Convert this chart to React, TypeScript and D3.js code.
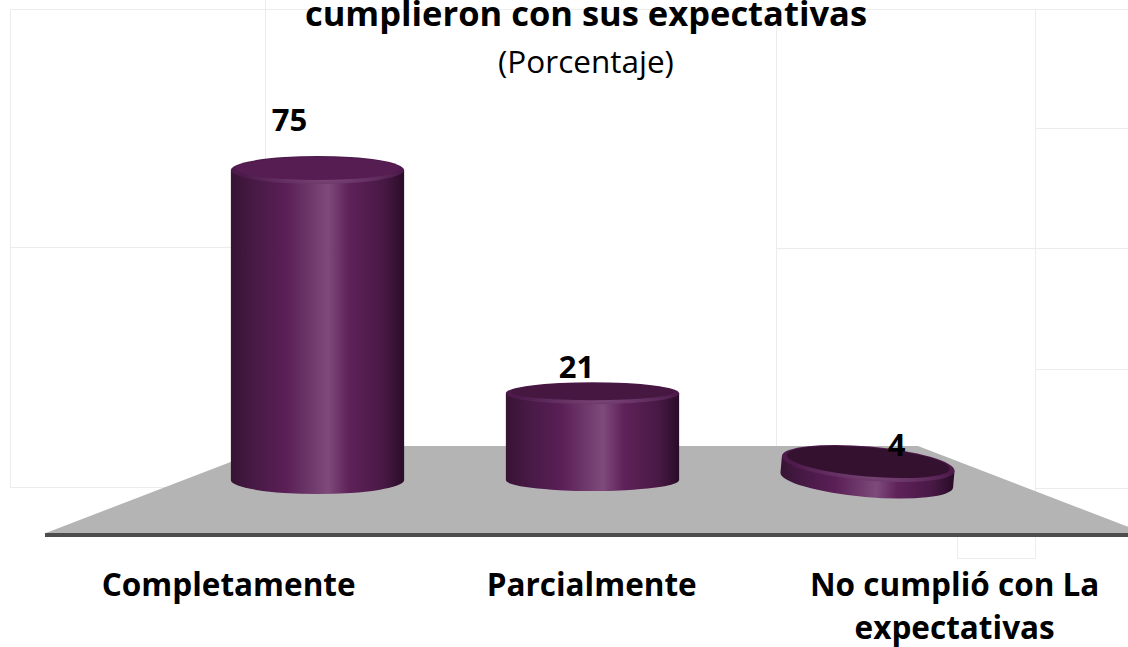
import React from "react";
import * as d3 from "d3";

// ---- data ----
const categories: string[][] = [
  ["Completamente"],
  ["Parcialmente"],
  ["No cumplió con La", "expectativas"],
];
const values: number[] = [75, 21, 4];
const titleLine = "cumplieron con sus expectativas";
const subtitle = "(Porcentaje)";

// ---- layout ----
const W = 1128;
const H = 647;
const FONT = "'Open Sans', 'DejaVu Sans', sans-serif";
const vanishX = 595; // perspective centre of the floor
const frontSpread = 1.32; // label row is wider than the bars row
const ellipseRy = [14, 11, 17];
const tilt = [0, 0, 5];
const labelDx = [-28, -16, 29];
const labelGap = [25, 4, -10];

const gridLines: [number, number, number, number][] = [
  [10, 9, 1128, 9],
  [10, 9, 10, 487],
  [265, 0, 265, 247],
  [10, 247, 265, 247],
  [10, 487, 230, 487],
  [776, 9, 776, 446],
  [776, 248, 1128, 248],
  [1035, 9, 1035, 558],
  [1035, 128, 1128, 128],
  [1035, 369, 1128, 369],
  [1035, 488, 1128, 488],
  [957, 536, 957, 558],
  [957, 558, 1035, 558],
];

export default function App() {
  const keys = categories.map((c) => c.join(" "));
  const x = d3
    .scaleBand<string>()
    .domain(keys)
    .range([180, 1005])
    .paddingInner(0.37)
    .paddingOuter(0.185);
  const y = d3.scaleLinear().domain([0, 75]).range([480, 170]);

  const floorBackY = 446;
  const floorFrontY = 533;
  const floorBack = [272, 918];
  const floorFront = floorBack.map((v) => vanishX + (v - vanishX) * 1.7);

  const rx = x.bandwidth() / 2;
  const topColor = d3.interpolateRgb("#561d53", "#33112f");
  const firstC = x(keys[0])! + rx;
  const lastC = x(keys[keys.length - 1])! + rx;

  return (
    <svg
      width={W}
      height={H}
      style={{ position: "absolute", left: 0, top: 0, background: "#fff" }}
    >
      <defs>
        <linearGradient id="side" x1="0" x2="1" y1="0" y2="0">
          <stop offset="0%" stopColor="#371333" />
          <stop offset="12%" stopColor="#461944" />
          <stop offset="32%" stopColor="#5a1f57" />
          <stop offset="50%" stopColor="#744070" />
          <stop offset="56%" stopColor="#7e4a7b" />
          <stop offset="68%" stopColor="#5f2259" />
          <stop offset="88%" stopColor="#481945" />
          <stop offset="100%" stopColor="#2a0c28" />
        </linearGradient>
        <radialGradient id="rim" cx="0.55" cy="0.85" r="0.5">
          <stop offset="0%" stopColor="#7a4577" />
          <stop offset="100%" stopColor="#4e1a4b" />
        </radialGradient>
      </defs>

      {/* faint background cell lines */}
      <g stroke="#ececec" strokeWidth={1}>
        {gridLines.map(([x1, y1, x2, y2], i) => (
          <line key={i} x1={x1 + 0.5} y1={y1 + 0.5} x2={x2 + 0.5} y2={y2 + 0.5} />
        ))}
      </g>

      {/* title */}
      <text
        x={586}
        y={26}
        textAnchor="middle"
        fontFamily={FONT}
        fontWeight={700}
        fontSize={34.5}
      >
        {titleLine}
      </text>
      <text x={586} y={73} textAnchor="middle" fontFamily={FONT} fontSize={31.5}>
        {subtitle}
      </text>

      {/* floor */}
      <polygon
        points={[
          [floorBack[0], floorBackY],
          [floorBack[1], floorBackY],
          [floorFront[1], floorFrontY],
          [floorFront[0], floorFrontY],
        ]
          .map((p) => p.join(","))
          .join(" ")}
        fill="#b4b4b4"
      />
      <line x1={45} y1={535} x2={W} y2={535} stroke="#4d4d4d" strokeWidth={4} />

      {/* cylinders */}
      {keys.map((k, i) => {
        const cx = x(k)! + rx;
        const x0 = cx - rx;
        const x1 = cx + rx;
        const yTop = y(values[i]);
        const yBase = y(0);
        const ry = ellipseRy[i];
        const t = (cx - firstC) / (lastC - firstC);
        const side = `M${x0},${yTop} L${x0},${yBase} A${rx},${ry} 0 0 0 ${x1},${yBase} L${x1},${yTop} Z`;
        return (
          <g key={k}>
            <g transform={`rotate(${tilt[i]},${cx},${(yTop + yBase) / 2})`}>
              <path d={side} fill="url(#side)" />
              <ellipse cx={cx} cy={yTop} rx={rx} ry={ry} fill="url(#rim)" />
              <ellipse
                cx={cx}
                cy={yTop - 1.5}
                rx={rx - 5}
                ry={ry - 2.5}
                fill={topColor(t)}
              />
            </g>
            <text
              x={cx + labelDx[i]}
              y={yTop - ry - labelGap[i]}
              textAnchor="middle"
              fontFamily={FONT}
              fontWeight={700}
              fontSize={31}
            >
              {values[i]}
            </text>
          </g>
        );
      })}

      {/* category labels */}
      {keys.map((k, i) => {
        const cx = x(k)! + rx;
        const lx = vanishX + (cx - vanishX) * frontSpread;
        return (
          <text
            key={k}
            x={lx}
            y={596}
            textAnchor="middle"
            fontFamily={FONT}
            fontWeight={700}
            fontSize={31.5}
          >
            {categories[i].map((line, j) => (
              <tspan key={j} x={lx} dy={j === 0 ? 0 : 43}>
                {line}
              </tspan>
            ))}
          </text>
        );
      })}
    </svg>
  );
}
